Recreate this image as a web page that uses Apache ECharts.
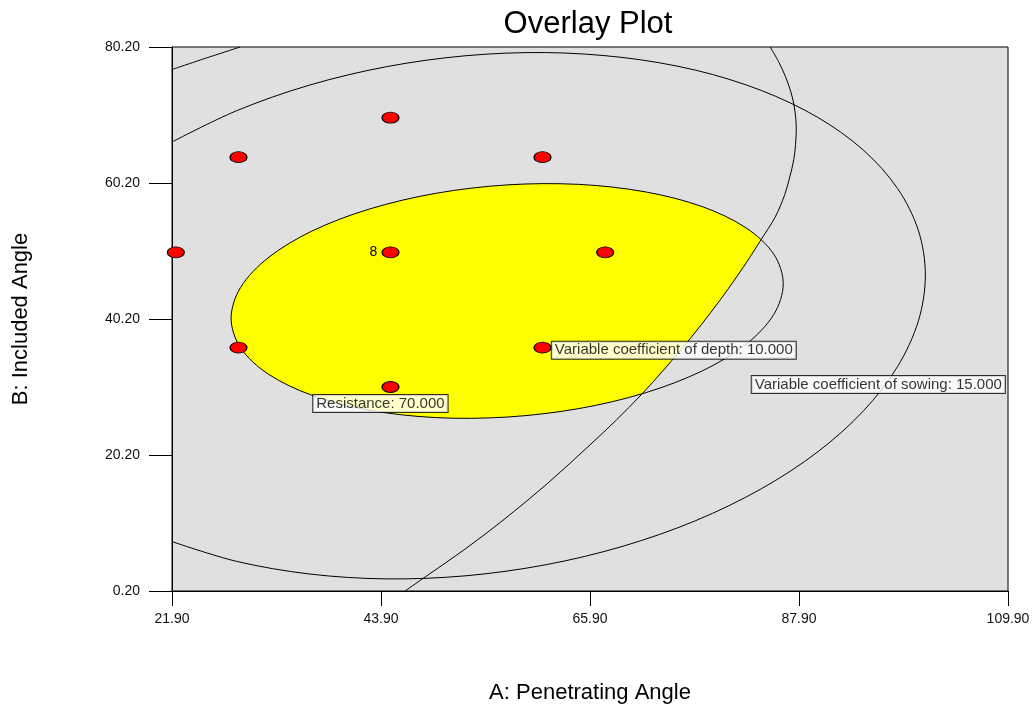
<!DOCTYPE html>
<html><head><meta charset="utf-8">
<script src="https://cdn.jsdelivr.net/npm/echarts@6/dist/echarts.min.js"></script>
<style>html,body{margin:0;padding:0;background:#fff}#c{width:1032px;height:708px}</style>
</head><body><div id="c"></div>
<script>
const xTicks = [21.9, 43.9, 65.9, 87.9, 109.9];
const yTicks = [0.2, 20.2, 40.2, 60.2, 80.2];

const designPoints = [
  [22.3, 50.0], [28.9, 36.0], [28.9, 64.0], [44.9, 30.2], [44.9, 50.0],
  [44.9, 69.8], [60.9, 36.0], [60.9, 64.0], [67.5, 50.0]
];
const centerPoint = [44.9, 50.0];
const centerRuns = 8;

// Resistance = 70 contour (closed)
const resistance70 = [
  [86.24,45.39],[85.25,40.88],[82.35,36.51],[77.73,32.58],[71.71,29.34],[64.70,27.02],
  [57.18,25.78],[49.66,25.70],[42.65,26.80],[36.63,28.99],[32.01,32.12],[29.11,35.98],
  [28.12,40.31],[29.11,44.82],[32.01,49.19],[36.63,53.13],[42.65,56.36],[49.66,58.68],
  [57.18,59.92],[64.70,60.00],[71.71,58.90],[77.73,56.72],[82.35,53.58],[85.25,49.72]
];

// Variable coefficient of depth = 10 contour
const depth10 = [
  [84.87,80.2],[85.74,78.07],[86.49,75.81],[87.03,73.65],[87.36,71.78],[87.57,69.53],
  [87.61,68.06],[87.54,65.85],[87.35,63.64],[86.93,61.09],[86.40,58.49],[85.40,55.21],
  [83.91,51.87],[82.77,49.36],[81.33,46.38],[79.62,43.03],[77.61,39.35],[75.47,35.67],
  [73.48,32.44],[71.39,29.20],[68.69,25.37],[65.90,21.69],[61.47,16.07],[56.94,10.82],
  [52.73,6.34],[48.54,2.26],[46.43,0.20]
];
const depth10Upper = [[21.9,76.89],[25.36,78.51],[29.08,80.2]];

// Variable coefficient of sowing = 15 contour
const sowing15 = [
  [21.90,66.23],[28.67,70.81],[36.31,74.57],[44.46,77.30],[52.85,78.92],[61.24,79.38],
  [69.39,78.65],[77.03,76.79],[83.93,73.81],[89.89,69.84],[94.72,64.98],[98.28,59.38],
  [100.47,53.20],[101.20,46.66],[100.47,39.93],[98.28,33.22],[94.72,26.74],[89.89,20.68],
  [83.93,15.23],[77.03,10.55],[69.39,6.79],[61.24,4.06],[52.85,2.44],[44.46,1.98],
  [36.31,2.71],[28.67,4.57],[21.90,7.47]
];

const contourLabels = [
  {name: 'Resistance: 70.000', value: [43.84, 27.76]},
  {name: 'Variable coefficient of depth: 10.000', value: [74.72, 35.60]},
  {name: 'Variable coefficient of sowing: 15.000', value: [96.25, 30.57]}
];

const FONT = "'Liberation Sans', Arial, sans-serif";
const BG = '#e0e0e0';
const SMOOTH = 0.33;

// region right of the depth contour (outside the feasible window), built from depth10
const depthMid = depth10.filter(p => p[1] >= 21 && p[1] <= 62);
const coverRegion = depthMid.concat([[95, depthMid[depthMid.length-1][1]], [95, depthMid[0][1]]]);

function shapeSeries(kind, pts, style, smooth, z) {
  return {
    type: 'custom', coordinateSystem: 'cartesian2d', silent: true, z: z,
    data: [[centerPoint[0], centerPoint[1]]],
    renderItem: function (params, api) {
      return {
        type: kind,
        shape: {points: pts.map(p => api.coord(p)), smooth: smooth},
        style: style
      };
    }
  };
}
const lineStyle = {fill: null, stroke: '#000', lineWidth: 1};

const chart = echarts.init(document.getElementById('c'), null, {renderer: 'canvas'});
chart.setOption({
  animation: false,
  backgroundColor: '#fff',
  title: {
    text: 'Overlay Plot', left: 588, top: 9, textAlign: 'center', padding: 0,
    textStyle: {fontFamily: FONT, fontSize: 31, fontWeight: 'normal', color: '#000'}
  },
  grid: {
    left: 172, right: 24, top: 47, bottom: 117, show: true,
    backgroundColor: BG, borderColor: '#000', borderWidth: 1,
    outerBoundsMode: 'none'
  },
  xAxis: {
    type: 'value', min: 21.9, max: 109.9,
    name: 'A: Penetrating Angle', nameLocation: 'middle', nameGap: 91,
    nameTextStyle: {fontFamily: FONT, fontSize: 22, color: '#000'},
    axisLine: {show: true, onZero: false, lineStyle: {color: '#000', width: 1}},
    axisTick: {show: true, length: 15, customValues: xTicks, lineStyle: {color: '#000'}},
    axisLabel: {customValues: xTicks, formatter: v => v.toFixed(2), margin: 21,
      fontFamily: FONT, fontSize: 14, color: '#111'},
    splitLine: {show: false}
  },
  yAxis: {
    type: 'value', min: 0.2, max: 80.2,
    name: 'B: Included Angle', nameLocation: 'middle', nameGap: 140,
    nameTextStyle: {fontFamily: FONT, fontSize: 22, color: '#000'},
    axisLine: {show: true, onZero: false, lineStyle: {color: '#000', width: 1}},
    axisTick: {show: true, length: 23, customValues: yTicks, lineStyle: {color: '#000'}},
    axisLabel: {customValues: yTicks, formatter: v => v.toFixed(2), margin: 32,
      fontFamily: FONT, fontSize: 14, color: '#111'},
    splitLine: {show: false}
  },
  series: [
    shapeSeries('polygon', resistance70, {fill: '#ffff00', stroke: null}, SMOOTH, 1),
    shapeSeries('polygon', coverRegion, {fill: BG, stroke: null}, SMOOTH, 2),
    shapeSeries('polygon', resistance70, lineStyle, SMOOTH, 3),
    shapeSeries('polyline', depth10, lineStyle, SMOOTH, 3),
    shapeSeries('polyline', depth10Upper, lineStyle, SMOOTH, 3),
    shapeSeries('polyline', sowing15, lineStyle, SMOOTH, 3),
    {
      type: 'scatter', silent: true, z: 5,
      symbol: 'circle', symbolSize: [17, 11],
      itemStyle: {color: '#ff0000', borderColor: '#000', borderWidth: 1, opacity: 1},
      data: designPoints.map(p => {
        const isCenter = p[0] === centerPoint[0] && p[1] === centerPoint[1];
        return isCenter ? {value: p, label: {show: true, formatter: String(centerRuns),
          position: 'left', distance: 4, fontFamily: FONT, fontSize: 14, color: '#000'}} : {value: p};
      })
    },
    {
      type: 'scatter', silent: true, z: 6,
      symbol: 'circle', symbolSize: 1,
      itemStyle: {color: 'transparent'},
      data: contourLabels,
      label: {
        show: true, position: 'inside', formatter: '{b}',
        fontFamily: FONT, fontSize: 15, lineHeight: 15, color: '#000',
        backgroundColor: '#fff', borderColor: '#000', borderWidth: 1,
        padding: [1, 3, 1, 3]
      }
    }
  ]
});
</script>
</body></html>
